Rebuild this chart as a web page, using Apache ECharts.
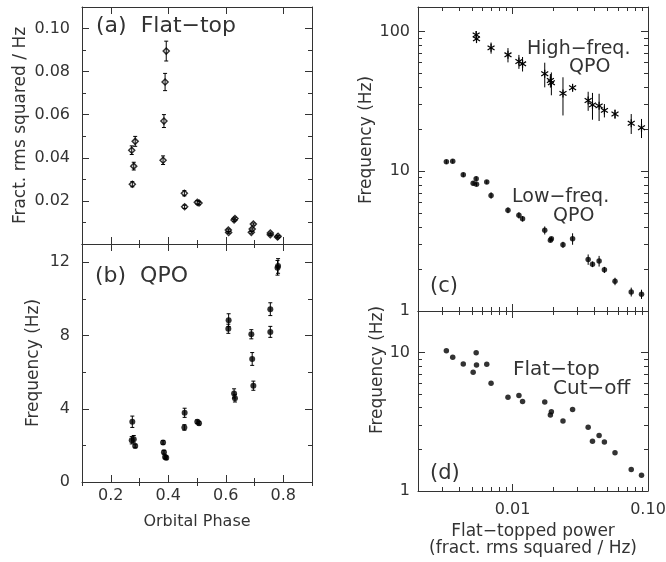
<!DOCTYPE html>
<html>
<head>
<meta charset="utf-8">
<script src="https://cdn.jsdelivr.net/npm/echarts@6/dist/echarts.min.js"></script>
<style>
  html, body { margin: 0; padding: 0; background: #fff; }
  #demo { width: 666px; height: 562px; }
</style>
</head>
<body>
<div id="demo"></div>
<script>
// one entry per observation
const phase = [0.780, 0.782, 0.755, 0.755, 0.610, 0.689, 0.609, 0.692, 0.696, 0.629, 0.632, 0.457,
  0.507, 0.501, 0.456, 0.275, 0.280, 0.382, 0.273, 0.285, 0.385, 0.389, 0.393];
const flatPower = [0.00324, 0.00361, 0.00432, 0.00511, 0.00538, 0.00541, 0.00644, 0.00693, 0.00924,
  0.01113, 0.01184, 0.01727, 0.01901, 0.01933, 0.02355, 0.02773, 0.03614, 0.03889, 0.04353, 0.04764,
  0.05705, 0.07518, 0.08954];
const flatPowerErr = [0.0004, 0.0004, 0.0004, 0.0004, 0.0004, 0.0004, 0.0005, 0.0005, 0.0005, 0.0006,
  0.0006, 0.0008, 0.0008, 0.0008, 0.0012, 0.0012, 0.0018, 0.002, 0.002, 0.0023, 0.003, 0.004, 0.0046];
const lfQpo = [11.7, 11.8, 9.44, 8.20, 8.84, 8.07, 8.37, 6.72, 5.26, 4.84, 4.57, 3.78, 3.21, 3.29,
  2.98, 3.29, 2.34, 2.16, 2.28, 1.97, 1.63, 1.37, 1.32];
const lfQpoErr = [0.4, 0.4, 0.35, 0.3, 0.35, 0.25, 0.25, 0.35, 0.25, 0.25, 0.2, 0.25, 0.1, 0.1, 0.15,
  0.31, 0.2, 0.1, 0.2, 0.1, 0.1, 0.1, 0.1];
const hfQpo = [null, null, null, null, 94.7, 88.7, null, 76.5, 68.2, 61.1, 58.8, 49.9, 44.7, 43.0,
  36.1, 39.6, 32.1, 29.9, 29.4, 27.3, 25.7, 22.1, 20.5];
const hfQpoErr = [null, null, null, null, 6, 6, null, 7, 8, 7, 7, 10, 5, 8, 11, 2, 5, 6.5, 6.5, 3, 2,
  3.6, 3.2];
const cutoff = [10.3, 9.26, 8.28, 7.21, 10.0, 8.15, 8.24, 6.0, 4.77, 4.91, 4.44, 4.40, 3.54, 3.74,
  3.20, 3.89, 2.89, 2.29, 2.52, 2.26, 1.89, 1.43, 1.30];

// tick values
const phaseTicks = [0.2, 0.4, 0.6, 0.8];
const phaseMinor = [0.1, 0.3, 0.5, 0.7, 0.9];
const powerTicks = [0.02, 0.04, 0.06, 0.08, 0.10];
const powerMinor = [0.01, 0.03, 0.05, 0.07, 0.09];
const qpoTicks = [0, 4, 8, 12];
const qpoMinor = [2, 6, 10];
const logPowerTicks = [0.01, 0.1];
const logPowerMinor = [0.002, 0.003, 0.004, 0.005, 0.006, 0.007, 0.008, 0.009,
  0.02, 0.03, 0.04, 0.05, 0.06, 0.07, 0.08, 0.09];
const logFreqTicks = [1, 10, 100];
const logFreqMinor = [2, 3, 4, 5, 6, 7, 8, 9, 20, 30, 40, 50, 60, 70, 80, 90];

const FONT = 'DejaVu Sans';
const INK = '#333';
const line = { color: INK, width: 1 };

// four axes per side pair: main + opposite with long ticks, both again with short minor ticks
function axisSet(dim, grid, o) {
  const main = dim === 'x' ? 'bottom' : 'left';
  const opp = dim === 'x' ? 'top' : 'right';
  const base = {
    gridIndex: grid, type: o.type, min: o.min, max: o.max, logBase: 10,
    splitLine: { show: false }, minorTick: { show: false }, silent: true
  };
  const tick = (vals, len) => ({ show: true, inside: true, length: len, customValues: vals, lineStyle: line });
  const first = Object.assign({}, base, {
    position: main,
    axisLine: { show: true, onZero: false, lineStyle: line },
    axisTick: tick(o.major, 7),
    axisLabel: o.labels ? {
      show: true, customValues: o.labels, formatter: o.fmt, margin: o.margin,
      color: INK, fontFamily: FONT, fontSize: 16
    } : { show: false }
  });
  if (o.name) {
    Object.assign(first, {
      name: o.name, nameLocation: 'middle', nameGap: o.nameGap,
      nameTextStyle: { color: INK, fontFamily: FONT, fontSize: o.nameSize, lineHeight: 17,
        padding: o.namePad || 0 }
    });
    if (dim === 'y') first.nameRotate = 90;
  }
  return [
    first,
    Object.assign({}, base, { position: opp, axisLine: { show: true, onZero: false, lineStyle: line },
      axisTick: tick(o.major, 7), axisLabel: { show: false } }),
    Object.assign({}, base, { position: main, axisLine: { show: false }, axisTick: tick(o.minor, 4), axisLabel: { show: false } }),
    Object.assign({}, base, { position: opp, axisLine: { show: false }, axisTick: tick(o.minor, 4), axisLabel: { show: false } })
  ];
}

const fix2 = v => v.toFixed(2);
const fix1 = v => v.toFixed(1);
const intFmt = v => String(Math.round(v));
const logXFmt = v => (Math.abs(v - 0.1) < 1e-6 ? '0.10' : '0.01');

const xAxis = [].concat(
  axisSet('x', 0, { type: 'value', min: 0.1, max: 0.9, major: phaseTicks, minor: phaseMinor }),
  axisSet('x', 1, { type: 'value', min: 0.1, max: 0.9, major: phaseTicks, minor: phaseMinor,
    labels: phaseTicks, fmt: fix1, margin: 6, name: 'Orbital Phase', nameGap: 31, nameSize: 16 }),
  axisSet('x', 2, { type: 'log', min: 0.002, max: 0.1, major: logPowerTicks, minor: logPowerMinor }),
  axisSet('x', 3, { type: 'log', min: 0.002, max: 0.1, major: logPowerTicks, minor: logPowerMinor,
    labels: logPowerTicks, fmt: logXFmt, margin: 11,
    name: 'Flat\u2212topped power\n(fract. rms squared / Hz)', nameGap: 32, nameSize: 17 })
);
const yAxis = [].concat(
  axisSet('y', 0, { type: 'value', min: 0, max: 0.11, major: powerTicks, minor: powerMinor,
    labels: powerTicks, fmt: fix2, margin: 12, name: 'Fract. rms squared / Hz', nameGap: 53, nameSize: 17 }),
  axisSet('y', 1, { type: 'value', min: 0, max: 13, major: qpoTicks, minor: qpoMinor,
    labels: qpoTicks, fmt: intFmt, margin: 12, name: 'Frequency (Hz)', nameGap: 40, nameSize: 17 }),
  axisSet('y', 2, { type: 'log', min: 1, max: 150, major: logFreqTicks, minor: logFreqMinor,
    labels: logFreqTicks, fmt: intFmt, margin: 8, name: 'Frequency (Hz)', nameGap: 35, nameSize: 17,
    namePad: [0, 0, 0, 38] }),
  axisSet('y', 3, { type: 'log', min: 1, max: 20, major: [1, 10], minor: logFreqMinor,
    labels: [1, 10], fmt: intFmt, margin: 8, name: 'Frequency (Hz)', nameGap: 27, nameSize: 17,
    namePad: [0, 0, 0, 62] })
);

function errBars(grid, xs, ys, errs, cap) {
  const data = [];
  xs.forEach((x, i) => {
    if (ys[i] == null) return;
    data.push([x, ys[i] - errs[i], ys[i] + errs[i], ys[i]]);
  });
  return {
    type: 'custom', xAxisIndex: grid * 4, yAxisIndex: grid * 4, data: data,
    encode: { x: 0, y: [1, 2] }, silent: true, z: 3,
    renderItem: function (params, api) {
      const hi = api.coord([api.value(0), api.value(2)]);
      const lo = api.coord([api.value(0), api.value(1)]);
      const st = { stroke: '#000', lineWidth: 1 };
      const kids = [{ type: 'line', shape: { x1: hi[0], y1: hi[1], x2: lo[0], y2: lo[1] }, style: st }];
      if (cap) {
        kids.push({ type: 'line', shape: { x1: hi[0] - cap, y1: hi[1], x2: hi[0] + cap, y2: hi[1] }, style: st });
        kids.push({ type: 'line', shape: { x1: lo[0] - cap, y1: lo[1], x2: lo[0] + cap, y2: lo[1] }, style: st });
      }
      return { type: 'group', children: kids };
    }
  };
}

function dots(grid, xs, ys, size, style, symbol) {
  return {
    type: 'scatter', xAxisIndex: grid * 4, yAxisIndex: grid * 4, silent: true, z: 2,
    symbol: symbol || 'circle', symbolSize: size,
    data: xs.map((x, i) => [x, ys[i]]),
    itemStyle: style || { color: '#000' }
  };
}

// high-freq QPO: error bar plus an asterisk
const hfSeries = errBars(2, flatPower, hfQpo, hfQpoErr, 0);
hfSeries.renderItem = function (params, api) {
  const hi = api.coord([api.value(0), api.value(2)]);
  const lo = api.coord([api.value(0), api.value(1)]);
  const p = api.coord([api.value(0), api.value(3)]);
  const st = { stroke: '#000', lineWidth: 1.2 };
  const a = 4, b = 3.5, c = 2.2;
  return { type: 'group', children: [
    { type: 'line', shape: { x1: hi[0], y1: hi[1], x2: lo[0], y2: lo[1] }, style: { stroke: '#000', lineWidth: 1 } },
    { type: 'line', shape: { x1: p[0], y1: p[1] - a, x2: p[0], y2: p[1] + a }, style: st },
    { type: 'line', shape: { x1: p[0] - b, y1: p[1] - c, x2: p[0] + b, y2: p[1] + c }, style: st },
    { type: 'line', shape: { x1: p[0] - b, y1: p[1] + c, x2: p[0] + b, y2: p[1] - c }, style: st }
  ] };
};

function label(text, x, y, size) {
  return { type: 'text', x: x, y: y, silent: true, z: 10,
    style: { text: text, fill: INK, font: size + 'px "' + FONT + '"', align: 'left', verticalAlign: 'middle' } };
}

const chart = echarts.init(document.getElementById('demo'));
chart.setOption({
  animation: false,
  backgroundColor: '#fff',
  grid: [
    { left: 82, top: 7, width: 230, height: 237, outerBoundsMode: 'none' },
    { left: 82, top: 244, width: 230, height: 238, outerBoundsMode: 'none' },
    { left: 418, top: 7, width: 230, height: 304, outerBoundsMode: 'none' },
    { left: 418, top: 311, width: 230, height: 180, outerBoundsMode: 'none' }
  ],
  xAxis: xAxis,
  yAxis: yAxis,
  series: [
    dots(0, phase, flatPower, 6, { color: '#fff', borderColor: '#000', borderWidth: 1.5 }, 'diamond'),
    errBars(0, phase, flatPower, flatPowerErr, 2),
    dots(1, phase, lfQpo, 6),
    errBars(1, phase, lfQpo, lfQpoErr, 2),
    dots(2, flatPower, lfQpo, 5.5),
    errBars(2, flatPower, lfQpo, lfQpoErr, 0),
    hfSeries,
    dots(3, flatPower, cutoff, 5.5)
  ],
  graphic: [
    label('(a)  Flat\u2212top', 96, 26, 22),
    label('(b)  QPO', 95, 276, 22),
    label('High\u2212freq.', 527, 49, 19),
    label('QPO', 569, 67, 19),
    label('Low\u2212freq.', 512, 197, 19),
    label('QPO', 553, 216, 19),
    label('(c)', 430, 287, 21),
    label('Flat\u2212top', 513, 370, 20),
    label('Cut\u2212off', 553, 389, 20),
    label('(d)', 430, 474, 21)
  ]
});
</script>
</body>
</html>
